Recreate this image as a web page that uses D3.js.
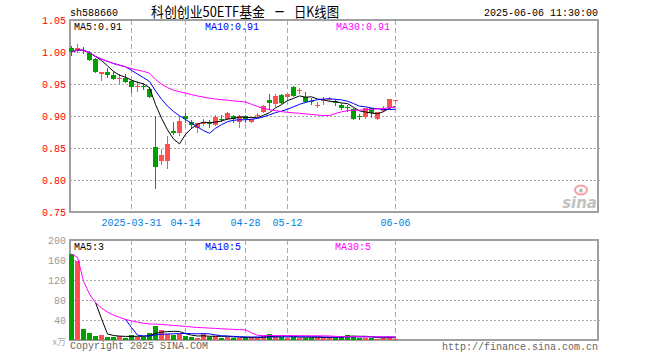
<!DOCTYPE html>
<html>
<head>
<meta charset="utf-8">
<script src="https://cdn.jsdelivr.net/npm/d3@7"></script>
<style>
body { margin: 0; background: #fff; }
svg text { font-family: 'Liberation Mono', 'DejaVu Sans Mono', monospace; font-size: 10px; }
</style>
</head>
<body>
<div id="chart"></div>
<script>
// daily bars, 588660
const opens  = [1.006,1.002,1.003,0.999,0.989,0.965,0.968,0.964,0.958,0.960,0.954,0.946,0.947,0.942,0.852,0.829,0.829,0.877,0.874,0.900,
                0.891,0.881,0.888,0.889,0.886,0.896,0.895,0.900,0.891,0.900,0.891,0.900,0.907,0.925,0.919,0.933,0.929,0.946,0.939,0.930,
                0.924,0.916,0.924,0.926,0.924,0.917,0.914,0.911,0.900,0.899,0.912,0.896,0.908,0.912,0.925];
const highs  = [1.010,1.012,1.008,1.001,0.991,0.969,0.975,0.968,0.966,0.966,0.955,0.954,0.952,0.946,0.900,0.849,0.869,0.890,0.900,0.905,
                0.894,0.889,0.895,0.893,0.902,0.902,0.907,0.902,0.902,0.902,0.896,0.904,0.917,0.934,0.935,0.934,0.935,0.947,0.944,0.937,
                0.928,0.922,0.929,0.930,0.927,0.921,0.917,0.913,0.903,0.913,0.913,0.906,0.916,0.927,0.925];
const lows   = [0.994,0.998,0.997,0.986,0.967,0.955,0.959,0.956,0.950,0.952,0.936,0.937,0.941,0.928,0.786,0.823,0.817,0.870,0.868,0.889,
                0.880,0.873,0.884,0.882,0.884,0.890,0.893,0.889,0.882,0.889,0.889,0.897,0.904,0.909,0.914,0.919,0.925,0.930,0.934,0.920,
                0.917,0.912,0.917,0.923,0.916,0.909,0.907,0.894,0.894,0.896,0.897,0.894,0.907,0.911,0.920];
const closes = [1.000,1.006,1.002,0.988,0.969,0.969,0.964,0.958,0.959,0.953,0.946,0.947,0.946,0.930,0.821,0.839,0.856,0.874,0.892,0.895,
                0.886,0.889,0.890,0.888,0.899,0.895,0.904,0.895,0.900,0.895,0.895,0.901,0.915,0.920,0.932,0.920,0.934,0.931,0.940,0.922,
                0.923,0.917,0.925,0.927,0.921,0.912,0.912,0.896,0.899,0.912,0.904,0.906,0.913,0.926,0.925];
// volume, 万
const volumes = [172,159,22,14,8,10,6,7,8,5,10,7,7,14,29,21,13,10,12,8,
                 6,4,12,7,9,4,6,5,5,4,4,5,9,12,6,7,5,7,5,5,
                 5,5,5,7,5,9,11,7,5,5,5,2,5,7,3];

const dateIdx = [10,19,29,36,54];
const dateLabels = ['2025-03-31','04-14','04-28','05-12','06-06'];
const priceTicks = [1.05,1.00,0.95,0.90,0.85,0.80,0.75];
const volTicks = [200,160,120,80,40];
const priceLegend = ['MA5:0.91','MA10:0.91','MA30:0.91'];
const volLegend = ['MA5:3','MA10:5','MA30:5'];

const W = 660, H = 360;
const L = 70, R = 598;
const RED = '#ff5050', GREEN = '#00a000', GRID = '#aaa', FRAME = '#a0a0a0';
const maColors = ['#000', '#0000ff', '#ff00ff'];

const svg = d3.select('#chart').append('svg')
  .attr('width', W).attr('height', H);

const x = d3.scaleLinear().domain([0, 88]).range([71.5, 71.5 + 88 * 6]);
const yP = d3.scaleLinear().domain([0.75, 1.05]).range([212, 20]);
const yV = d3.scaleLinear().domain([0, 200]).range([340, 240]);

// moving average; partial = use what is there at the start
function ma(vals, n, partial) {
  return vals.map((v, i) => {
    if (i < n - 1 && !partial) return null;
    const s = vals.slice(Math.max(0, i - n + 1), i + 1);
    return d3.mean(s);
  });
}

const up = closes.map((c, i) => c >= opens[i]);

function panel(y, top, bottom, ticks, labelColor, fmt) {
  const g = svg.append('g');
  // horizontal dotted grid
  g.selectAll('line.h').data(ticks.filter(t => y(t) > top + 1 && y(t) < bottom - 1)).enter()
    .append('line')
    .attr('x1', L).attr('x2', R + 2)
    .attr('y1', d => Math.round(y(d)) + 0.5).attr('y2', d => Math.round(y(d)) + 0.5)
    .attr('stroke', GRID).attr('stroke-dasharray', '2,2');
  // vertical dashed at date ticks
  g.selectAll('line.v').data(dateIdx).enter()
    .append('line')
    .attr('x1', d => x(d)).attr('x2', d => x(d))
    .attr('y1', top).attr('y2', bottom)
    .attr('stroke', GRID).attr('stroke-dasharray', '5,3');
  g.append('rect')
    .attr('x', L).attr('y', top).attr('width', R - L).attr('height', bottom - top)
    .attr('fill', 'none').attr('stroke', FRAME).attr('stroke-width', 2);
  g.selectAll('text.tick').data(ticks).enter()
    .append('text')
    .attr('x', L - 4).attr('y', d => y(d) + 4)
    .attr('text-anchor', 'end').attr('fill', labelColor)
    .text(fmt);
  return g;
}

function maLines(vals, y, specs) {
  specs.forEach((s, k) => {
    const m = ma(vals, s.n, s.partial);
    const line = d3.line()
      .defined(d => d != null)
      .x((d, i) => x(i)).y(d => y(d));
    svg.append('path')
      .attr('d', line(m))
      .attr('fill', 'none').attr('stroke', maColors[k]).attr('stroke-width', 1);
  });
}

// ---- price panel
panel(yP, 20, 212, priceTicks, '#f00', d3.format('.2f'));

const candles = svg.append('g').attr('shape-rendering', 'crispEdges');
closes.forEach((c, i) => {
  const col = up[i] ? RED : GREEN;
  const cx = x(i);
  candles.append('line')
    .attr('x1', cx).attr('x2', cx)
    .attr('y1', yP(highs[i])).attr('y2', yP(lows[i]))
    .attr('stroke', col);
  const y0 = yP(Math.max(opens[i], c)), y1 = yP(Math.min(opens[i], c));
  candles.append('rect')
    .attr('x', cx - 2.5).attr('width', 5)
    .attr('y', y0).attr('height', Math.max(1, y1 - y0))
    .attr('fill', col);
});

maLines(closes, yP, [{n: 5, partial: true}, {n: 10, partial: true}, {n: 30, partial: true}]);

svg.selectAll('text.pleg').data(priceLegend).enter()
  .append('text')
  .attr('x', (d, i) => [74, 205, 336][i]).attr('y', 30)
  .attr('fill', (d, i) => maColors[i])
  .text(d => d);

svg.selectAll('text.date').data(dateIdx).enter()
  .append('text')
  .attr('x', d => x(d)).attr('y', 226)
  .attr('text-anchor', 'middle').attr('fill', '#0080e0')
  .text((d, i) => dateLabels[i]);

// sina mark
const logo = svg.append('g').attr('opacity', 0.45);
logo.append('ellipse').attr('cx', 581).attr('cy', 190).attr('rx', 6).attr('ry', 4.5)
  .attr('fill', 'none').attr('stroke', '#e03030').attr('stroke-width', 2);
logo.append('circle').attr('cx', 581).attr('cy', 190.5).attr('r', 2).attr('fill', '#666');
logo.append('text').attr('x', 597).attr('y', 208).attr('text-anchor', 'end')
  .style('font-family', 'DejaVu Sans').style('font-size', '15px')
  .style('font-style', 'italic').style('font-weight', 'bold')
  .attr('fill', '#777').text('sina');

// ---- volume panel
panel(yV, 240, 340, volTicks, '#999', d => d);

svg.append('g').attr('shape-rendering', 'crispEdges')
  .selectAll('rect').data(volumes).enter()
  .append('rect')
  .attr('x', (d, i) => x(i) - 2.5).attr('width', 5)
  .attr('y', d => yV(d)).attr('height', d => yV(0) - yV(d))
  .attr('fill', (d, i) => up[i] ? RED : GREEN);

maLines(volumes, yV, [{n: 5}, {n: 10}, {n: 30, partial: true}]);

svg.selectAll('text.vleg').data(volLegend).enter()
  .append('text')
  .attr('x', (d, i) => [74, 205, 335][i]).attr('y', 250)
  .attr('fill', (d, i) => maColors[i])
  .text(d => d);

svg.append('text').attr('x', 66).attr('y', 345).attr('text-anchor', 'end')
  .attr('fill', '#aaa').style('font-family', 'Noto Sans CJK SC').style('font-size', '9px').text('x万');

// ---- titles
svg.append('text').attr('x', 70).attr('y', 16).attr('fill', '#000').text('sh588660');
const title = [['科创创业50ETF基金', 151, 114], ['一', 275, 9], ['日K线图', 294, 45]];
svg.selectAll('text.title').data(title).enter()
  .append('text')
  .attr('x', d => d[1]).attr('y', 17).attr('fill', '#000')
  .attr('textLength', d => d[2]).attr('lengthAdjust', 'spacingAndGlyphs')
  .style('font-family', 'Noto Sans CJK SC').style('font-size', '14px')
  .text(d => d[0]);
svg.append('text').attr('x', R).attr('y', 16).attr('text-anchor', 'end').attr('fill', '#000')
  .text('2025-06-06 11:30:00');
svg.append('text').attr('x', L).attr('y', 349).attr('fill', '#666').text('Copyright 2025 SINA.COM');
svg.append('text').attr('x', R).attr('y', 350).attr('text-anchor', 'end').attr('fill', '#666')
  .text('http://finance.sina.com.cn');
</script>
</body>
</html>
